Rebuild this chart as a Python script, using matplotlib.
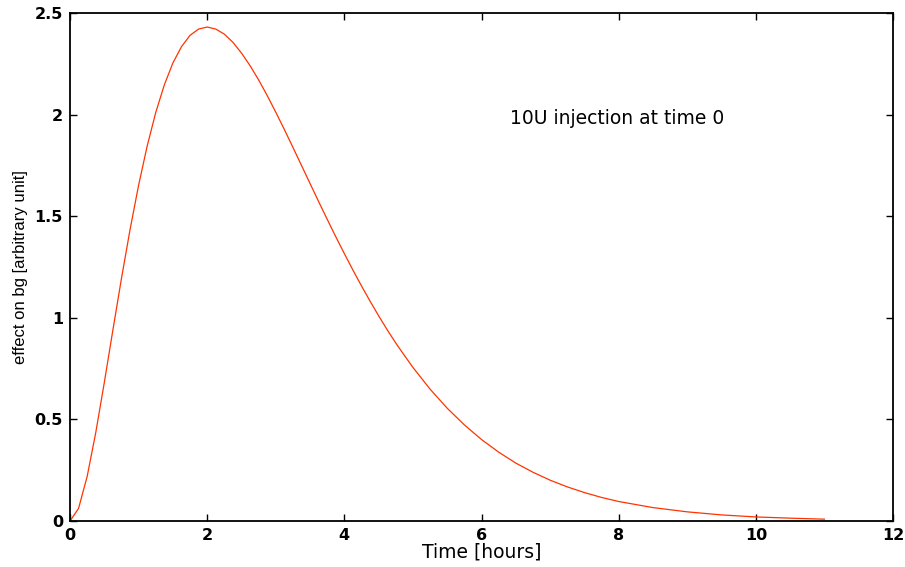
import matplotlib
matplotlib.use("Agg")
import matplotlib.pyplot as plt

plt.rcParams['font.family'] = ['DejaVu Sans']

time_h = [0, 0.125, 0.25, 0.375, 0.5, 0.625, 0.75, 0.875, 1.0, 1.125, 1.25,
          1.375, 1.5, 1.625, 1.75, 1.875, 2.0, 2.125, 2.25, 2.375, 2.5, 2.625,
          2.75, 2.875, 3.0, 3.125, 3.25, 3.375, 3.5, 3.625, 3.75, 3.875, 4.0,
          4.125, 4.25, 4.375, 4.5, 4.625, 4.75, 4.875, 5.0, 5.25, 5.5, 5.75,
          6.0, 6.25, 6.5, 6.75, 7.0, 7.25, 7.5, 7.75, 8.0, 8.5, 9.0, 9.5,
          10.0, 10.5, 11.0]
effect = [0.0, 0.062, 0.219, 0.434, 0.681, 0.939, 1.193, 1.433, 1.652, 1.845,
          2.010, 2.146, 2.254, 2.334, 2.390, 2.421, 2.431, 2.421, 2.396, 2.356,
          2.303, 2.241, 2.171, 2.094, 2.012, 1.927, 1.839, 1.750, 1.661, 1.572,
          1.485, 1.399, 1.316, 1.235, 1.157, 1.082, 1.010, 0.941, 0.876, 0.815,
          0.756, 0.649, 0.555, 0.473, 0.401, 0.339, 0.285, 0.240, 0.201, 0.168,
          0.140, 0.116, 0.096, 0.066, 0.045, 0.030, 0.020, 0.014, 0.009]
xticks = [0, 2, 4, 6, 8, 10, 12]
yticks = [0, 0.5, 1, 1.5, 2, 2.5]
ytick_labels = ['0', '0.5', '1', '1.5', '2', '2.5']

fig = plt.figure(figsize=(9.05, 5.67), dpi=100)
ax = fig.add_axes([70/905, 1-521/567, (893-70)/905, (521-13)/567])
ax.plot(time_h, effect, color='#ff3300', lw=0.9)
ax.set_xlim(0, 12)
ax.set_ylim(0, 2.5)
ax.set_xticks(xticks)
ax.set_xticklabels([str(v) for v in xticks])
ax.set_yticks(yticks)
ax.set_yticklabels(ytick_labels)
ax.tick_params(direction='in', top=True, right=True, length=5, width=1,
               labelsize=11.5, pad=5)
for lab in ax.get_xticklabels() + ax.get_yticklabels():
    lab.set_fontweight('bold')
for s in ax.spines.values():
    s.set_linewidth(1.3)
ax.set_xlabel('Time [hours]', fontsize=13.5, labelpad=0)
ax.set_ylabel('effect on bg [arbitrary unit]', fontsize=12, labelpad=5,
              family=['Liberation Sans'])
ax.text(6.42, 1.98, '10U injection at time 0', fontsize=13.5,
        va='center', ha='left')
fig.savefig('out.png', dpi=100)
